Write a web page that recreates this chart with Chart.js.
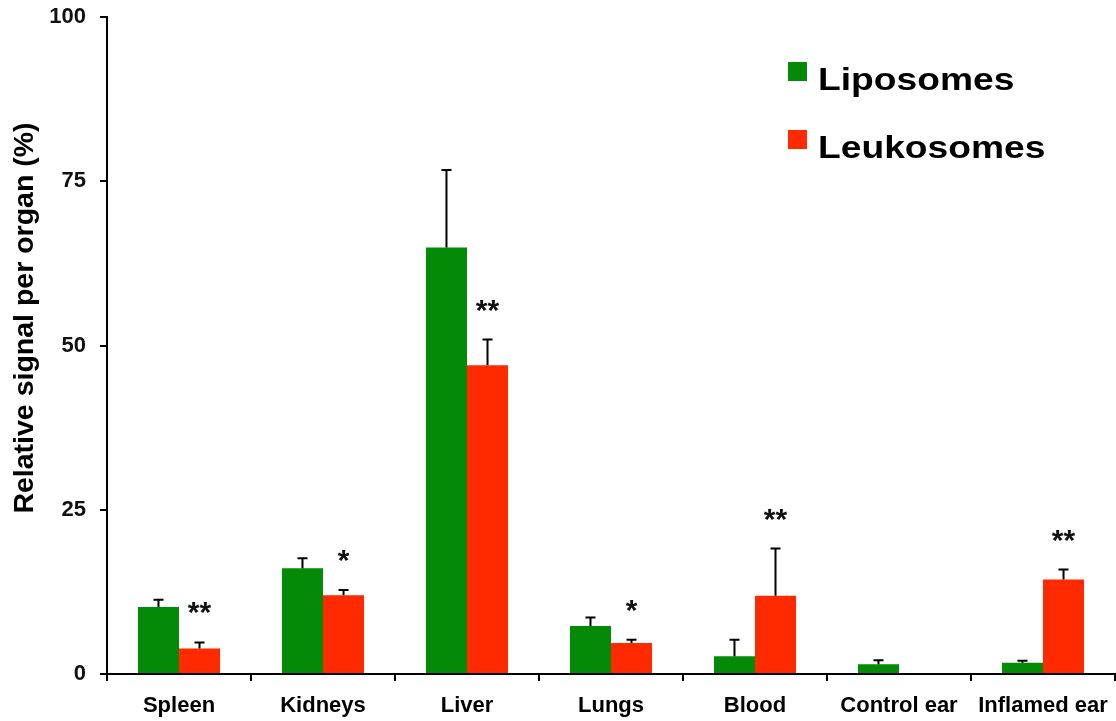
<!DOCTYPE html>
<html>
<head>
<meta charset="utf-8">
<style>
  html, body { margin: 0; padding: 0; background: #fff; }
  #wrap { width: 1116px; height: 721px; }
</style>
<script src="https://cdn.jsdelivr.net/npm/chart.js@4"></script>
</head>
<body>
<div id="wrap"><canvas id="c" width="1116" height="721"></canvas></div>
<script>
// Organ distribution: mean relative signal (%) with SEM
const organs = ['Spleen', 'Kidneys', 'Liver', 'Lungs', 'Blood', 'Control ear', 'Inflamed ear'];
const liposomes = [10.2, 16.1, 64.9, 7.3, 2.7, 1.5, 1.7];
const liposomesErr = [1.1, 1.5, 11.8, 1.3, 2.5, 0.6, 0.3];
const leukosomes = [3.9, 12.0, 47.0, 4.7, 11.9, 0.15, 14.4];
const leukosomesErr = [0.9, 0.8, 3.9, 0.5, 7.2, 0, 1.5];
const significance = ['**', '*', '**', '*', '**', '', '**'];
const yTicks = [0, 25, 50, 75, 100];
const yTitle = 'Relative signal per organ (%)';

const GREEN = '#048a06';
const RED = '#ff2a00';
const FONT = 'Liberation Sans, Arial, Helvetica, sans-serif';

// Upward error bars with caps, plus significance asterisks over the second series
const errorBarPlugin = {
  id: 'errorBars',
  afterDatasetsDraw(chart) {
    const ctx = chart.ctx;
    const y = chart.scales.y;
    const errs = [liposomesErr, leukosomesErr];
    ctx.save();
    ctx.strokeStyle = '#000';
    ctx.lineWidth = 2;
    chart.data.datasets.forEach((ds, di) => {
      const meta = chart.getDatasetMeta(di);
      meta.data.forEach((bar, i) => {
        const e = errs[di][i];
        if (!e) return;
        const top = y.getPixelForValue(ds.data[i] + e);
        ctx.beginPath();
        ctx.moveTo(bar.x, bar.y);
        ctx.lineTo(bar.x, top);
        ctx.moveTo(bar.x - 5, top);
        ctx.lineTo(bar.x + 5, top);
        ctx.stroke();
      });
    });
    // asterisks
    const meta = chart.getDatasetMeta(1);
    ctx.fillStyle = '#111';
    ctx.font = 'bold 30px ' + FONT;
    ctx.textAlign = 'center';
    ctx.textBaseline = 'alphabetic';
    significance.forEach((s, i) => {
      if (!s) return;
      const bar = meta.data[i];
      const top = y.getPixelForValue(leukosomes[i] + leukosomesErr[i]);
      ctx.fillText(s, bar.x, top - 20);
    });
    ctx.restore();
  }
};

// Legend block in the upper right and the rotated y axis title
const decorPlugin = {
  id: 'decor',
  afterDraw(chart) {
    const ctx = chart.ctx;
    ctx.save();
    const rows = chart.data.datasets.map(d => ({ label: d.label, color: d.backgroundColor }));
    ctx.textAlign = 'left';
    ctx.textBaseline = 'alphabetic';
    rows.forEach((r, k) => {
      const base = 90 + k * 68;
      ctx.fillStyle = r.color;
      ctx.fillRect(788, base - 28, 19, 19);
      ctx.save();
      ctx.translate(818, base);
      ctx.scale(1.2, 1);
      ctx.font = 'bold 31px ' + FONT;
      ctx.fillStyle = '#000';
      ctx.fillText(r.label, 0, 0);
      ctx.restore();
    });
    ctx.translate(25, 318);
    ctx.rotate(-Math.PI / 2);
    ctx.textAlign = 'center';
    ctx.textBaseline = 'middle';
    ctx.font = 'bold 28.5px ' + FONT;
    ctx.fillStyle = '#000';
    ctx.fillText(yTitle, 0, 0);
    ctx.restore();
  }
};

new Chart(document.getElementById('c'), {
  type: 'bar',
  data: {
    labels: organs,
    datasets: [
      { label: 'Liposomes', data: liposomes, backgroundColor: GREEN, borderWidth: 0 },
      { label: 'Leukosomes', data: leukosomes, backgroundColor: RED, borderWidth: 0 }
    ]
  },
  options: {
    responsive: false,
    animation: false,
    devicePixelRatio: 1,
    layout: { padding: { top: 17, right: 1, left: 0, bottom: 0 } },
    categoryPercentage: 0.57,
    barPercentage: 1.0,
    plugins: {
      legend: { display: false },
      tooltip: { enabled: false }
    },
    scales: {
      x: {
        afterFit(s) { s.height = 47; s.paddingLeft = 0; s.paddingRight = 0; },
        grid: { offset: true, drawOnChartArea: false, drawTicks: true, tickLength: 7, color: '#000', lineWidth: 2 },
        border: { display: true, color: '#000', width: 2 },
        ticks: { color: '#000', padding: 12, font: { family: FONT, size: 22, weight: 'bold' }, maxRotation: 0, autoSkip: false }
      },
      y: {
        min: 0,
        max: 100,
        afterFit(s) { s.width = 107; s.paddingTop = 0; s.paddingBottom = 0; },
        afterBuildTicks(s) { s.ticks = yTicks.map(v => ({ value: v })); },
        grid: { drawOnChartArea: false, drawTicks: true, tickLength: 7, color: '#000', lineWidth: 2 },
        border: { display: true, color: '#000', width: 2 },
        ticks: { color: '#111', padding: 14, font: { family: FONT, size: 22, weight: 'bold' } }
      }
    }
  },
  plugins: [errorBarPlugin, decorPlugin]
});
</script>
</body>
</html>
